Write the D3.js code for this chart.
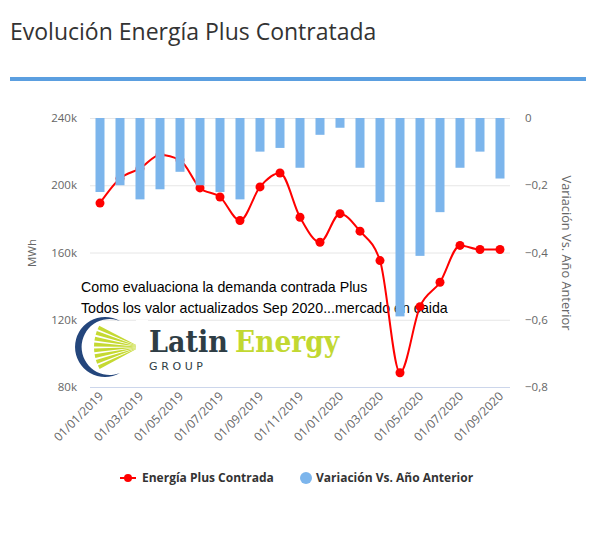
<!DOCTYPE html>
<html><head><meta charset="utf-8">
<script src="https://cdn.jsdelivr.net/npm/d3@7"></script>
<style>body{margin:0;background:#fff}svg{display:block}</style>
</head><body>
<script>
const categories = ["01/01/2019","01/02/2019","01/03/2019","01/04/2019","01/05/2019","01/06/2019","01/07/2019","01/08/2019","01/09/2019","01/10/2019","01/11/2019","01/12/2019","01/01/2020","01/02/2020","01/03/2020","01/04/2020","01/05/2020","01/06/2020","01/07/2020","01/08/2020","01/09/2020"];
const energia = [189.4,204,210,218,215,198.4,193,179,199,207.3,181,166.1,183.1,172.7,155.2,88.5,127.8,142.3,164.2,161.8,161.8];
const variacion = [-0.22,-0.2,-0.242,-0.212,-0.16,-0.2,-0.22,-0.242,-0.1,-0.089,-0.148,-0.05,-0.029,-0.148,-0.25,-0.59,-0.41,-0.28,-0.148,-0.1,-0.18];
const leftTicks = [80,120,160,200,240];
const rightTicks = [-0.8,-0.6,-0.4,-0.2,0];
const title = "Evolución Energía Plus Contratada";
const noteLines = ["Como evaluaciona la demanda contrada Plus","Todos los valor actualizados Sep 2020...mercado en caida"];

const W=600,H=550;
const svg=d3.select("body").append("svg").attr("width",W).attr("height",H);
svg.append("text").attr("x",10).attr("y",40).attr("font-family","Open Sans").attr("font-size",23).attr("fill","#333").text(title);
svg.append("rect").attr("x",10).attr("y",77).attr("width",576).attr("height",4).attr("fill","#5b9fe0");

const x=d3.scaleBand().domain(categories).range([90,510]);
const yL=d3.scaleLinear().domain([80,240]).range([387,118]);
const yR=d3.scaleLinear().domain([-0.8,0]).range([387,118]);

// grid
svg.append("g").selectAll("line").data(leftTicks.slice(1)).join("line")
 .attr("x1",90).attr("x2",510).attr("y1",d=>yL(d)+0.5).attr("y2",d=>yL(d)+0.5).attr("stroke","#e6e6e6");
svg.append("line").attr("x1",90).attr("x2",510).attr("y1",yL(80)+0.5).attr("y2",yL(80)+0.5).attr("stroke","#ccd6eb");

const tf="Open Sans";
svg.append("g").selectAll("text").data(leftTicks).join("text")
 .attr("x",77).attr("y",d=>yL(d)+4).attr("text-anchor","end").attr("font-family",tf).attr("font-size",11.5).attr("fill","#666")
 .text(d=>d+"k");
svg.append("g").selectAll("text").data(rightTicks).join("text")
 .attr("x",525).attr("y",d=>yR(d)+4).attr("text-anchor","start").attr("font-family",tf).attr("font-size",11.5).attr("fill","#666")
 .text(d=>d===0?"0":("−"+Math.abs(d).toFixed(1).replace(".",",")));
svg.append("text").attr("transform","translate(36,253) rotate(-90)").attr("text-anchor","middle").attr("font-family",tf).attr("font-size",11.5).attr("fill","#666").text("MWh");
svg.append("text").attr("transform","translate(562,253) rotate(90)").attr("text-anchor","middle").attr("font-family",tf).attr("font-size",12.8).attr("fill","#666").text("Variación Vs. Año Anterior");

// x labels
svg.append("g").selectAll("text").data(categories.filter((d,i)=>i%2===0)).join("text")
 .attr("transform",d=>`translate(${x(d)+x.bandwidth()/2+4},${397}) rotate(-45)`).attr("text-anchor","end")
 .attr("font-family",tf).attr("font-size",12).attr("fill","#666").text(d=>d);

// annotation text
svg.append("g").selectAll("text").data(noteLines).join("text")
 .attr("x",81).attr("y",(d,i)=>292+i*21).attr("font-family","Liberation Sans").attr("font-size",14.2).attr("fill","#000").text(d=>d);

// logo
const logo=svg.append("g");
const cx=108,cy=347;
logo.append("path").attr("d",`M ${cx+12} ${cy-26} A 28 28 0 1 0 ${cx+12} ${cy+26} A 30 30 0 1 1 ${cx+12} ${cy-26} Z`).attr("fill","#24467c");
const fx=140,fy=347;
const nR=8;
for(let i=0;i<nR;i++){
  const a0=Math.PI+(-0.5+i*0.128), a1=a0+0.085;
  const r=46;
  logo.append("path").attr("d",`M ${fx} ${fy} L ${fx+r*Math.cos(a0)} ${fy+r*Math.sin(a0)} L ${fx+r*Math.cos(a1)} ${fy+r*Math.sin(a1)} Z`).attr("fill","#c5d932");
}
logo.append("rect").attr("x",136).attr("y",320).attr("width",12).attr("height",55).attr("fill","#fff");
logo.append("text").attr("x",149).attr("y",352).attr("font-family","DejaVu Serif").attr("font-weight","bold").attr("font-size",29)
 .attr("textLength",79).attr("lengthAdjust","spacingAndGlyphs").attr("fill","#2e3d45").text("Latin");
logo.append("text").attr("x",235).attr("y",352).attr("font-family","DejaVu Serif").attr("font-weight","bold").attr("font-size",29)
 .attr("textLength",104).attr("lengthAdjust","spacingAndGlyphs").attr("fill","#c2d831").text("Energy");
logo.append("text").attr("x",149).attr("y",370).attr("font-family","DejaVu Sans").attr("font-size",11)
 .attr("textLength",54).attr("lengthAdjust","spacing").attr("fill","#2e3d45").text("GROUP");

// line
const line=d3.line().x((d,i)=>x(categories[i])+x.bandwidth()/2).y(d=>yL(d)).curve(d3.curveMonotoneX);
svg.append("path").datum(energia).attr("d",line).attr("fill","none").attr("stroke","#ff0000").attr("stroke-width",2);
svg.append("g").selectAll("circle").data(energia).join("circle")
 .attr("cx",(d,i)=>x(categories[i])+x.bandwidth()/2).attr("cy",d=>yL(d)).attr("r",4.5).attr("fill","#ff0000");

// bars
svg.append("g").selectAll("rect").data(variacion).join("rect")
 .attr("x",(d,i)=>x(categories[i])+x.bandwidth()/2-4.5).attr("width",9)
 .attr("y",yR(0)).attr("height",d=>yR(d)-yR(0)).attr("fill","#7cb5ec");

// legend
const lg=svg.append("g");
lg.append("line").attr("x1",120).attr("x2",136).attr("y1",478).attr("y2",478).attr("stroke","#ff0000").attr("stroke-width",2);
lg.append("circle").attr("cx",128).attr("cy",478).attr("r",4).attr("fill","#ff0000");
lg.append("text").attr("x",142).attr("y",482).attr("font-family",tf).attr("font-weight","bold").attr("font-size",12).attr("fill","#333").text("Energía Plus Contrada");
lg.append("circle").attr("cx",306).attr("cy",478).attr("r",6).attr("fill","#7cb5ec");
lg.append("text").attr("x",316).attr("y",482).attr("font-family",tf).attr("font-weight","bold").attr("font-size",12).attr("fill","#333").text("Variación Vs. Año Anterior");
</script>
</body></html>
